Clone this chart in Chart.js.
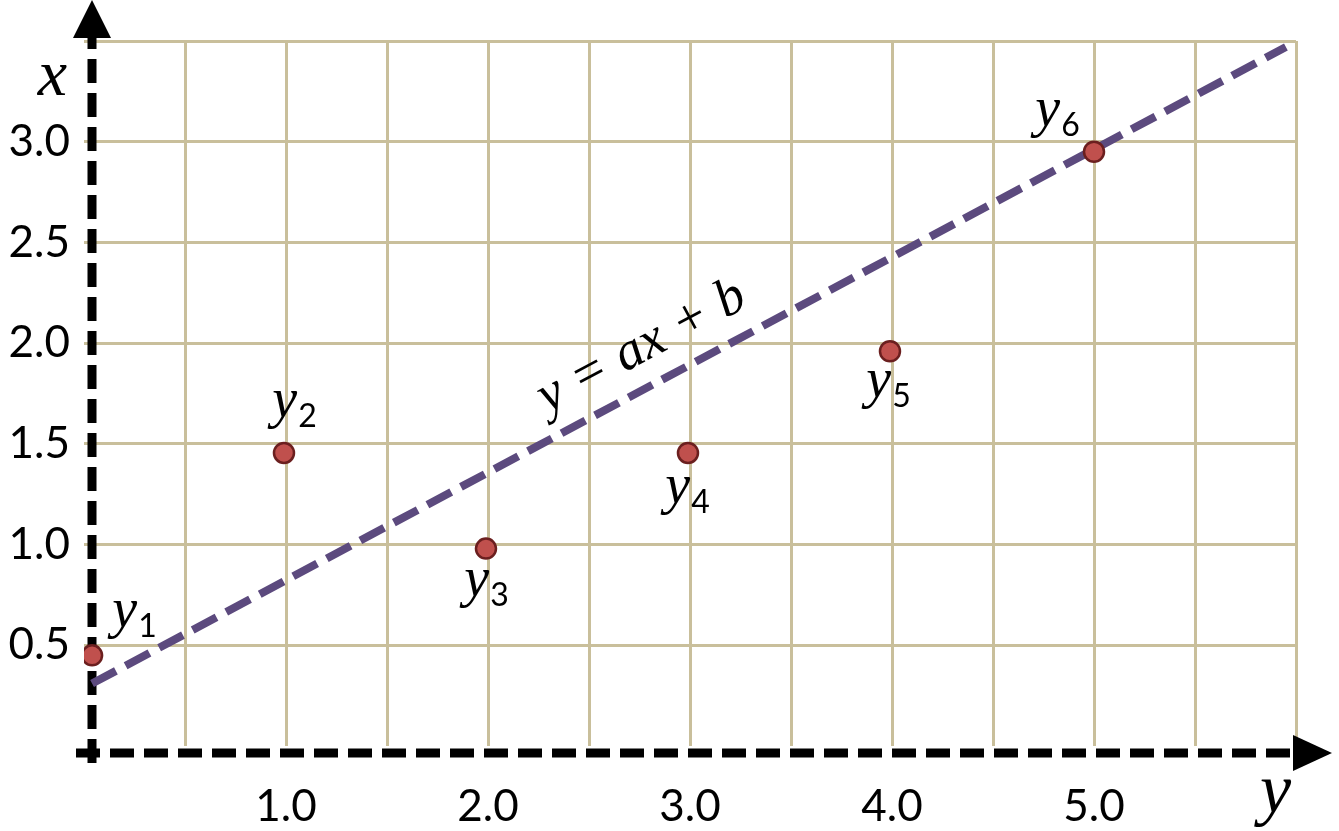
<!DOCTYPE html>
<html lang="en">
<head>
  <meta charset="UTF-8" />
  <title>Linear fit</title>
  <script src="https://cdn.jsdelivr.net/npm/chart.js"></script>
  <style>
    * { margin: 0; padding: 0; box-sizing: border-box; }
    body { background: #ffffff; width: 1339px; height: 831px; overflow: hidden; }
    canvas { display: block; }
  </style>
</head>
<body>
  <canvas id="fitChart" width="1339" height="831"></canvas>

  <script>
    // measured points y1..y6
    const pointX = [0.04, 0.99, 1.99, 2.99, 3.99, 5.0];
    const pointY = [0.45, 1.455, 0.98, 1.455, 1.96, 2.95];
    const pointNames = ['1', '2', '3', '4', '5', '6'];

    // fitted line y = ax + b (end points)
    const fitX = [0.04, 5.95];
    const fitY = [0.31, 3.47];

    const xTickLabels = [1, 2, 3, 4, 5];
    const yTickLabels = [0.5, 1, 1.5, 2, 2.5, 3];

    // where each point label sits, px offset from the point (dx, dy)
    const labelPlace = [[42, -18], [10, -26], [0, 57], [-1, 60], [-2, 56], [-37, -16]];

    const GRID = '#c9bf9b';
    const MATH = '"Liberation Serif", "DejaVu Serif", serif';

    const axesPlugin = {
      id: 'axes',
      beforeDatasetsDraw(chart) {
        const { ctx, chartArea, scales } = chart;
        const ax = scales.x.getPixelForValue(0) + 8;
        const ay = scales.y.getPixelForValue(0) + 7;
        ctx.save();
        ctx.strokeStyle = '#000';
        ctx.fillStyle = '#000';
        ctx.lineWidth = 9;
        ctx.setLineDash([24, 10]);
        // vertical axis
        ctx.beginPath();
        ctx.moveTo(ax, ay + 10);
        ctx.lineTo(ax, chartArea.top - 4);
        ctx.stroke();
        // horizontal axis
        ctx.beginPath();
        ctx.moveTo(ax - 16, ay);
        ctx.lineTo(chartArea.right + 4, ay);
        ctx.stroke();
        ctx.setLineDash([]);
        // arrow heads
        ctx.beginPath();
        ctx.moveTo(ax, 0);
        ctx.lineTo(ax - 19, chartArea.top - 3);
        ctx.lineTo(ax + 19, chartArea.top - 3);
        ctx.closePath();
        ctx.fill();
        ctx.beginPath();
        ctx.moveTo(chartArea.right + 36, ay);
        ctx.lineTo(chartArea.right - 3, ay - 18);
        ctx.lineTo(chartArea.right - 3, ay + 18);
        ctx.closePath();
        ctx.fill();

        // axis letters
        ctx.font = 'italic 66px ' + MATH;
        ctx.textAlign = 'right';
        ctx.textBaseline = 'alphabetic';
        ctx.fillText('x', ax - 25, chartArea.top + 54);
        ctx.font = 'italic 70px ' + MATH;
        ctx.textAlign = 'left';
        ctx.fillText('y', chartArea.right - 36, ay + 59);
        ctx.restore();
      },
      afterDatasetsDraw(chart) {
        const { ctx, scales } = chart;
        ctx.save();
        ctx.fillStyle = '#000';
        ctx.textBaseline = 'alphabetic';

        // point labels
        const meta = chart.getDatasetMeta(0);
        meta.data.forEach((pt, i) => {
          const [dx, dy] = labelPlace[i];
          ctx.font = 'italic 56px ' + MATH;
          const wy = ctx.measureText('y').width;
          ctx.font = '32px Lato';
          const ws = ctx.measureText(pointNames[i]).width;
          const x0 = pt.x + dx - (wy + ws) / 2;
          const base = pt.y + dy;
          ctx.textAlign = 'left';
          ctx.font = 'italic 56px ' + MATH;
          ctx.fillText('y', x0, base - 10);
          ctx.font = '32px Lato';
          ctx.fillText(pointNames[i], x0 + wy + 1, base);
        });

        // equation along the fitted line
        const lx = 2.85;
        const ly = fitY[0] + (fitY[1] - fitY[0]) * (lx - fitX[0]) / (fitX[1] - fitX[0]);
        const px = scales.x.getPixelForValue(lx);
        const py = scales.y.getPixelForValue(ly);
        const ang = Math.atan2(
          scales.y.getPixelForValue(fitY[1]) - scales.y.getPixelForValue(fitY[0]),
          scales.x.getPixelForValue(fitX[1]) - scales.x.getPixelForValue(fitX[0]));
        ctx.translate(px, py);
        ctx.rotate(ang);
        ctx.font = 'italic 54px ' + MATH;
        ctx.textAlign = 'center';
        ctx.fillText('y = ax + b', 0, -24);
        ctx.restore();
      }
    };

    const gridColor = c => (c.tick && c.tick.value === 0) ? 'rgba(0,0,0,0)' : GRID;

    new Chart(document.getElementById('fitChart'), {
      type: 'scatter',
      data: {
        datasets: [
          {
            data: pointX.map((x, i) => ({ x, y: pointY[i] })),
            pointRadius: 10,
            pointHoverRadius: 10,
            backgroundColor: '#c0504d',
            borderColor: '#6b1f1f',
            borderWidth: 2.5,
            order: 0
          },
          {
            type: 'line',
            data: fitX.map((x, i) => ({ x, y: fitY[i] })),
            borderColor: '#5c4a7e',
            borderWidth: 8,
            borderDash: [27, 11],
            pointRadius: 0,
            fill: false,
            order: 1
          }
        ]
      },
      options: {
        responsive: false,
        devicePixelRatio: 1,
        animation: false,
        events: [],
        layout: { padding: { top: 41, right: 43, left: 0, bottom: 0 } },
        plugins: { legend: { display: false }, tooltip: { enabled: false } },
        scales: {
          x: {
            type: 'linear', min: 0, max: 6,
            border: { display: false },
            grid: { color: gridColor, lineWidth: 3, drawTicks: false },
            ticks: {
              stepSize: 0.5, padding: 34, color: '#000', font: { family: 'Lato', size: 44 },
              maxRotation: 0, autoSkip: false,
              callback: v => xTickLabels.includes(v) ? v.toFixed(1) : ''
            },
            afterFit: s => { s.height = 85; }
          },
          y: {
            type: 'linear', min: 0, max: 3.5,
            border: { display: false },
            grid: { color: gridColor, lineWidth: 3, drawTicks: false },
            ticks: {
              stepSize: 0.5, padding: 14, color: '#000', font: { family: 'Lato', size: 44 },
              autoSkip: false,
              callback: v => yTickLabels.includes(v) ? v.toFixed(1) : ''
            },
            afterFit: s => { s.width = 84; }
          }
        }
      },
      plugins: [axesPlugin]
    });
  </script>
</body>
</html>
